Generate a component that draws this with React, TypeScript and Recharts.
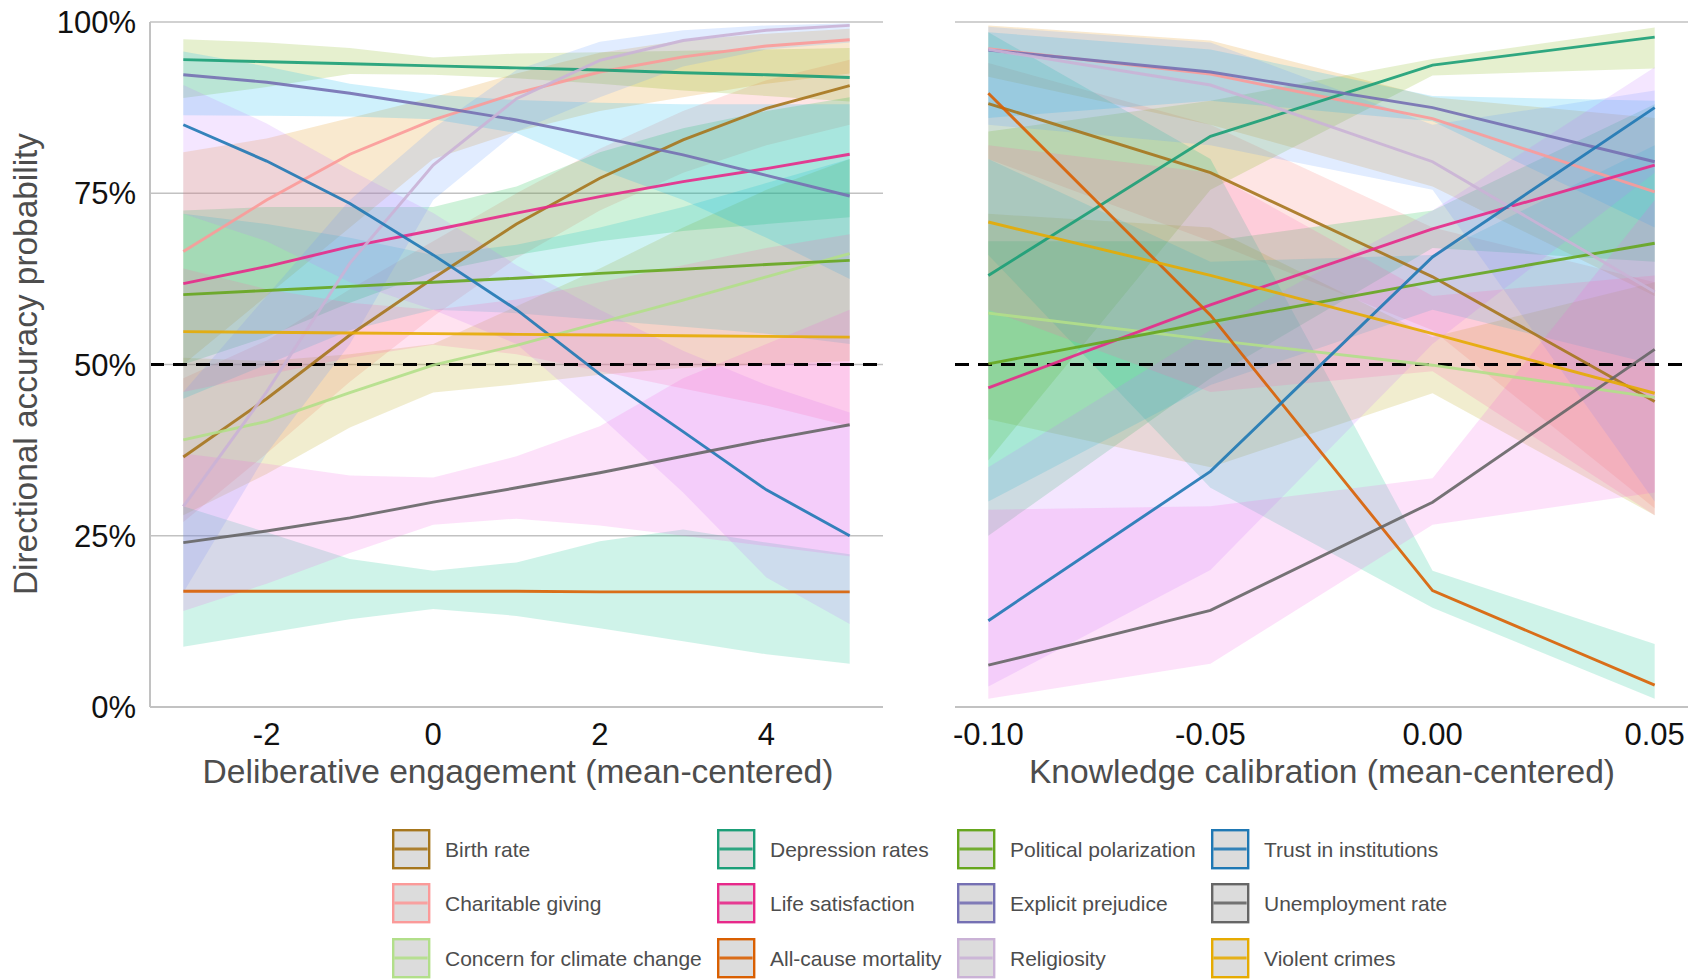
import { Area, CartesianGrid, ComposedChart, Line, ReferenceLine, XAxis, YAxis } from "recharts";

const seriesKeys = ["birth", "charity", "climate", "depress", "life", "mort", "polar", "prej", "relig", "trust", "unemp", "violent"];
const seriesNames = [
  "Birth rate", "Charitable giving", "Concern for climate change",
  "Depression rates", "Life satisfaction", "All-cause mortality",
  "Political polarization", "Explicit prejudice", "Religiosity",
  "Trust in institutions", "Unemployment rate", "Violent crimes",
];
const lineColors = ["#A6761D", "#FB9A99", "#B2DF8A", "#1B9E77", "#E7298A", "#D95F02", "#66A61E", "#7570B3", "#CAB2D6", "#1F78B4", "#666666", "#E6AB02"];
const fillColors = ["#F8766D", "#DE8C00", "#B79F00", "#7CAE00", "#00BA38", "#00C08B", "#00BFC4", "#00B4F0", "#619CFF", "#C77CFF", "#F564E3", "#FF64B0"];

// deliberative engagement panel
const engX = [-3, -2, -1, 0, 1, 2, 3, 4, 5];
const engTicks = [-2, 0, 2, 4];
const engBirth = [36.5, 45.0, 54.3, 62.6, 70.5, 77.2, 82.8, 87.4, 90.7];
const engBirthLo = [27, 37, 47.5, 57, 65.5, 72.5, 78, 82, 85];
const engBirthHi = [48, 53.5, 61, 68, 75, 81.5, 87, 91.5, 94.5];
const engCharity = [66.5, 74.0, 80.7, 85.7, 89.6, 92.7, 94.9, 96.5, 97.4];
const engCharityLo = [50, 60, 70, 80, 84, 87, 89, 91, 92.5];
const engCharityHi = [81, 83, 86, 89, 92.5, 95.5, 97.3, 98.3, 99];
const engClimate = [39.0, 41.7, 45.9, 49.9, 52.8, 56.1, 59.4, 62.8, 66.2];
const engClimateLo = [28, 34, 40.8, 45.9, 47.1, 48.5, 49.5, 50, 50.5];
const engClimateHi = [51, 50.5, 51.5, 53, 58.5, 64, 70, 75.5, 80];
const engDepress = [94.5, 94.2, 93.9, 93.6, 93.3, 93.0, 92.6, 92.3, 91.9];
const engDepressLo = [88.9, 90.5, 92.4, 92.3, 91.8, 91.0, 90.0, 89.2, 88.4];
const engDepressHi = [97.5, 97, 96.2, 94.8, 95.4, 95.6, 95.8, 96, 96.2];
const engLife = [61.8, 64.3, 67.2, 69.6, 72.1, 74.5, 76.7, 78.6, 80.7];
const engLifeLo = [50, 54, 59, 63.5, 66, 68, 69.5, 70.5, 71.5];
const engLifeHi = [72.5, 73, 73, 73, 76, 81, 84.5, 87, 89];
const engMort = [16.9, 16.9, 16.9, 16.9, 16.9, 16.8, 16.8, 16.8, 16.8];
const engMortLo = [8.8, 10.8, 12.8, 14.3, 13.3, 11.5, 9.6, 7.7, 6.3];
const engMortHi = [29.3, 25.5, 21.6, 19.9, 21.1, 24.2, 25.9, 24, 22.3];
const engPolar = [60.2, 60.8, 61.4, 62.0, 62.6, 63.3, 63.9, 64.6, 65.2];
const engPolarLo = [45, 50, 55, 58, 57.5, 56.5, 55.5, 54.5, 53];
const engPolarHi = [72, 70.5, 68.5, 66, 67.5, 70, 73, 76.5, 80];
const engPrej = [92.3, 91.2, 89.6, 87.7, 85.7, 83.2, 80.6, 77.6, 74.6];
const engPrejLo = [86.4, 86.3, 86.2, 85.8, 83.8, 78.5, 74, 68.5, 62.5];
const engPrejHi = [95.7, 93.5, 91, 89.4, 88.6, 88.2, 88, 88, 88];
const engRelig = [29.3, 46.0, 64.8, 79.1, 88.8, 94.4, 97.3, 98.8, 99.5];
const engReligLo = [16.7, 37, 53, 74, 84, 89, 93.5, 96, 97];
const engReligHi = [46, 60, 74, 84.5, 93, 97.1, 98.8, 99.5, 99.8];
const engTrust = [85.0, 79.7, 73.5, 66.0, 58.0, 48.6, 40.2, 31.7, 25.0];
const engTrustLo = [72, 68, 62, 58, 53, 42.5, 31.3, 18.9, 12.1];
const engTrustHi = [90.8, 85.2, 78.4, 72.1, 64.5, 58, 52, 47, 43];
const engUnemp = [24.0, 25.7, 27.6, 29.9, 32.0, 34.2, 36.6, 39.0, 41.2];
const engUnempLo = [14, 18, 22.5, 26.6, 27.5, 26.5, 25, 23.5, 22];
const engUnempHi = [37, 35.5, 33.8, 33.5, 36.6, 41, 48, 53, 58];
const engViolent = [54.8, 54.7, 54.6, 54.5, 54.4, 54.3, 54.2, 54.1, 54.0];
const engViolentLo = [46, 48.5, 51, 52.9, 51.5, 49, 46.5, 44, 41];
const engViolentHi = [64, 61, 59, 58, 59.5, 62, 64.5, 67, 69];

// knowledge calibration panel
const calX = [-0.1, -0.05, 0, 0.05];
const calTicks = [-0.1, -0.05, 0, 0.05];
const calBirth = [88.1, 78.0, 62.8, 44.6];
const calBirthLo = [80, 68, 55, 29];
const calBirthHi = [94, 85, 70, 62];
const calCharity = [96.1, 92.4, 85.9, 75.2];
const calCharityLo = [92, 85, 76, 60];
const calCharityHi = [99.5, 97.3, 89, 86];
const calClimate = [57.5, 53.6, 49.9, 45.2];
const calClimateLo = [42, 35, 45.8, 28];
const calClimateHi = [72, 70, 54, 62];
const calDepress = [63.0, 83.3, 93.7, 97.8];
const calDepressLo = [36, 75.5, 92.2, 93.2];
const calDepressHi = [84, 88.5, 94.6, 99.2];
const calLife = [46.6, 58.7, 69.8, 79.1];
const calLifeLo = [25, 48, 67, 65];
const calLifeHi = [68, 68, 72.5, 88];
const calMort = [89.6, 57.2, 17.0, 3.2];
const calMortLo = [66, 32, 14.5, 1.2];
const calMortHi = [98.5, 80, 19.9, 9.2];
const calPolar = [50.1, 56.2, 62.1, 67.7];
const calPolarLo = [30, 47, 58, 50];
const calPolarHi = [80, 65, 66, 82];
const calPrej = [95.9, 92.7, 87.5, 79.6];
const calPrejLo = [86, 88.5, 85.5, 70];
const calPrejHi = [98.5, 96, 89.2, 88.5];
const calRelig = [96.0, 90.8, 79.6, 60.6];
const calReligLo = [85, 82, 75.5, 30];
const calReligHi = [99.3, 97, 85, 90];
const calTrust = [12.6, 34.4, 65.7, 87.5];
const calTrustLo = [3, 20, 53, 78];
const calTrustHi = [35, 55, 72.5, 93.4];
const calUnemp = [6.1, 14.1, 29.9, 52.2];
const calUnempLo = [1.2, 6.3, 26.6, 31.3];
const calUnempHi = [28.8, 29.3, 33.4, 74];
const calViolent = [70.8, 63.0, 54.5, 45.8];
const calViolentLo = [58, 46, 49, 28];
const calViolentHi = [82, 78, 60, 63];

const yTicks = [0, 25, 50, 75, 100];

const engSeries = [
  [engBirth, engBirthLo, engBirthHi], [engCharity, engCharityLo, engCharityHi],
  [engClimate, engClimateLo, engClimateHi], [engDepress, engDepressLo, engDepressHi],
  [engLife, engLifeLo, engLifeHi], [engMort, engMortLo, engMortHi],
  [engPolar, engPolarLo, engPolarHi], [engPrej, engPrejLo, engPrejHi],
  [engRelig, engReligLo, engReligHi], [engTrust, engTrustLo, engTrustHi],
  [engUnemp, engUnempLo, engUnempHi], [engViolent, engViolentLo, engViolentHi],
];
const calSeries = [
  [calBirth, calBirthLo, calBirthHi], [calCharity, calCharityLo, calCharityHi],
  [calClimate, calClimateLo, calClimateHi], [calDepress, calDepressLo, calDepressHi],
  [calLife, calLifeLo, calLifeHi], [calMort, calMortLo, calMortHi],
  [calPolar, calPolarLo, calPolarHi], [calPrej, calPrejLo, calPrejHi],
  [calRelig, calReligLo, calReligHi], [calTrust, calTrustLo, calTrustHi],
  [calUnemp, calUnempLo, calUnempHi], [calViolent, calViolentLo, calViolentHi],
];

function buildRows(xs: number[], series: number[][][]) {
  return xs.map((x, i) => {
    const row: Record<string, any> = { x };
    seriesKeys.forEach((k, s) => {
      row[k] = series[s][0][i];
      row[k + "Band"] = [series[s][1][i], series[s][2][i]];
    });
    return row;
  });
}

const FONT = "'Liberation Sans', Arial, sans-serif";
const GRID = "#c2c2c2";

type PanelProps = {
  data: Record<string, any>[];
  domain: [number, number];
  ticks: number[];
  fmt: (v: number) => string;
  left: number;
  width: number;
  marginLeft: number;
  yWidth: number;
  showY: boolean;
};

function Panel({ data, domain, ticks, fmt, left, width, marginLeft, yWidth, showY }: PanelProps) {
  return (
    <div style={{ position: "absolute", left, top: 0 }}>
      <ComposedChart width={width} height={790} data={data} margin={{ top: 22, right: 17, bottom: 0, left: marginLeft }}>
        <CartesianGrid vertical={false} stroke={GRID} strokeWidth={1.6} />
        <XAxis
          type="number"
          dataKey="x"
          domain={domain}
          ticks={ticks}
          allowDataOverflow
          tickFormatter={fmt}
          height={83}
          tickLine={false}
          tickSize={6}
          tickMargin={10}
          axisLine={{ stroke: GRID, strokeWidth: 2 }}
          tick={{ fill: "#111", fontSize: 31, fontFamily: FONT }}
        />
        <YAxis
          type="number"
          domain={[0, 100]}
          ticks={yTicks}
          allowDataOverflow
          width={yWidth}
          tick={showY ? { fill: "#111", fontSize: 31, fontFamily: FONT } : false}
          tickFormatter={(v: number) => `${v}%`}
          tickLine={false}
          tickSize={6}
          tickMargin={8}
          axisLine={{ stroke: GRID, strokeWidth: 2 }}
        />
        {seriesKeys.map((k, i) => (
          <Area
            key={k + "Band"}
            type="linear"
            dataKey={k + "Band"}
            stroke="none"
            fill={fillColors[i]}
            fillOpacity={0.19}
            dot={false}
            activeDot={false}
            isAnimationActive={false}
          />
        ))}
        <ReferenceLine y={50} stroke="#000" strokeWidth={2.8} strokeDasharray="14 9" />
        {seriesKeys.map((k, i) => (
          <Line
            key={k}
            type="linear"
            dataKey={k}
            stroke={lineColors[i]}
            strokeOpacity={0.9}
            strokeWidth={2.9}
            dot={false}
            activeDot={false}
            isAnimationActive={false}
          />
        ))}
      </ComposedChart>
    </div>
  );
}

const legendColX = [392, 717, 957, 1211];
const legendRowY = [829, 883, 938];

export default function App() {
  const engRows = buildRows(engX, engSeries);
  const calRows = buildRows(calX, calSeries);
  return (
    <div style={{ position: "absolute", left: 0, top: 0, width: 1705, height: 979, background: "#fff", overflow: "hidden" }}>
      <Panel data={engRows} domain={[-3.4, 5.4]} ticks={engTicks} fmt={(v) => String(v)} left={0} width={900} marginLeft={0} yWidth={150} showY />
      <Panel data={calRows} domain={[-0.1075, 0.0575]} ticks={calTicks} fmt={(v) => v.toFixed(2)} left={880} width={825} marginLeft={75} yWidth={0} showY={false} />
      <svg width={1705} height={979} style={{ position: "absolute", left: 0, top: 0, pointerEvents: "none" }}>
        <text x={518} y={783} textAnchor="middle" fontSize={33.6} fontFamily={FONT} fill="#4d4d4d">
          Deliberative engagement (mean-centered)
        </text>
        <text x={1322} y={783} textAnchor="middle" fontSize={33.6} fontFamily={FONT} fill="#4d4d4d">
          Knowledge calibration (mean-centered)
        </text>
        <text transform="translate(37,364) rotate(-90)" textAnchor="middle" fontSize={33.4} fontFamily={FONT} fill="#4d4d4d">
          Directional accuracy probability
        </text>
        {seriesNames.map((name, i) => {
          const x = legendColX[Math.floor(i / 3)];
          const y = legendRowY[i % 3];
          return (
            <g key={name}>
              <rect x={x + 1.2} y={y + 1.2} width={36} height={38} fill="#dcdcdc" stroke={lineColors[i]} strokeWidth={2.4} />
              <line x1={x + 2.4} x2={x + 35.6} y1={y + 20} y2={y + 20} stroke={lineColors[i]} strokeOpacity={0.9} strokeWidth={3} />
              <text x={x + 53} y={y + 27.5} fontSize={21} fontFamily={FONT} fill="#4d4d4d">
                {name}
              </text>
            </g>
          );
        })}
      </svg>
    </div>
  );
}
